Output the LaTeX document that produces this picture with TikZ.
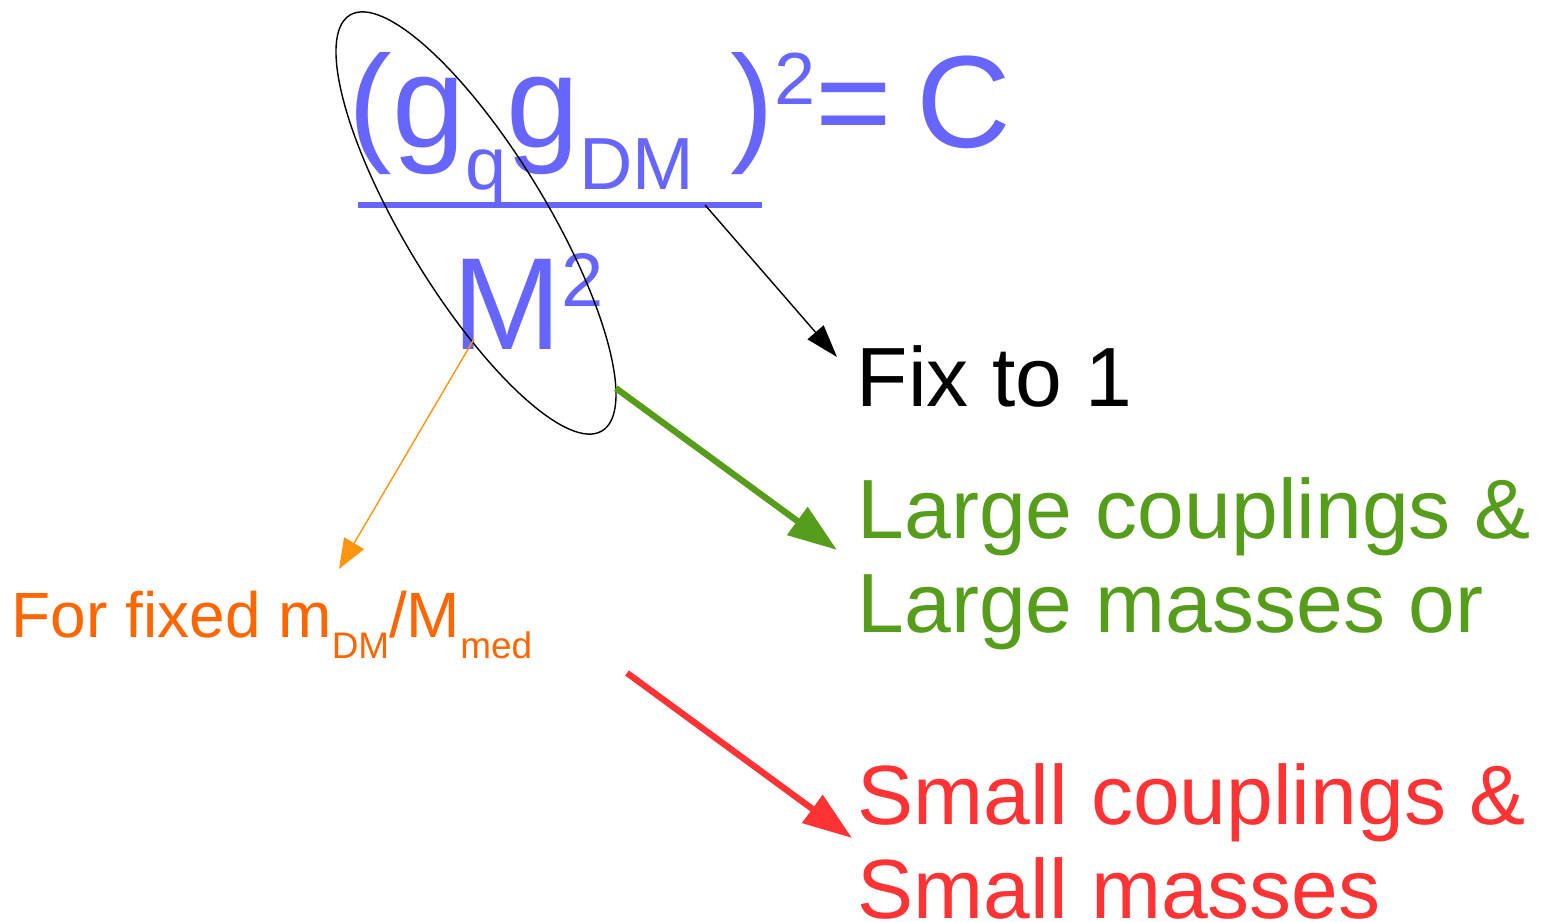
\documentclass[tikz,border=0pt]{standalone}
\usepackage{fontspec}
\setmainfont{Liberation Sans}
\usetikzlibrary{arrows.meta,shapes.geometric,calc}

\definecolor{fblue}{RGB}{102,102,255}
\definecolor{lgreen}{RGB}{87,157,28}
\definecolor{sred}{RGB}{255,51,51}
\definecolor{otext}{RGB}{255,102,0}
\definecolor{oarrow}{RGB}{255,149,14}

\newcommand{\lowtxt}[2]{\raisebox{-0.32em}{\fontsize{#1}{#1}\selectfont #2}}
\newcommand{\hightxt}[2]{\raisebox{0.33em}{\fontsize{#1}{#1}\selectfont #2}}

\begin{document}
\begin{tikzpicture}[
  x=0.01cm, y=-0.01cm,
  txt/.style={anchor=base west, inner sep=0pt, align=left},
  big/.style={font=\fontsize{37.3}{40}\selectfont},
  mid/.style={font=\fontsize{23.9}{27}\selectfont},
  ring/.style={draw, ellipse, line width=0.4pt, inner sep=0pt, outer sep=0pt,
    minimum width=4.86cm, minimum height=1.42cm},
  thinarr/.style={-{Triangle[length=9.3pt, width=6pt]}, line width=0.4pt},
  fatarr/.style={-{Triangle[length=14pt, width=9.5pt]}, line width=1.8pt}
]
\useasboundingbox (0,0) rectangle (1544,922);

% the ratio
\node[txt, big, text=fblue] (coupl) at (348,148) {(g\lowtxt{21}{q}g\lowtxt{21}{DM} )\hightxt{21}{2}=\hspace{0.19em}C};
\coordinate (barL) at (358,205);
\coordinate (barR) at (762,205);
\draw[fblue, line width=1.7pt] (barL) -- (barR);
\node[txt, big, text=fblue] (mass) at (452,350) {M\hightxt{21.6}{2}};
\node[ring, rotate=-58.75] (loop) at (476,223) {};

% outcomes (base = last line)
\node[txt, mid] (fix) at (856,407) {Fix to 1};
\node[txt, mid, text=lgreen] (large) at (857,633) {Large couplings \&\\Large masses or};
\node[txt, mid, text=sred] (small) at (857,919) {Small couplings \&\\Small masses};
\node[txt, text=otext, font=\fontsize{18.2}{20}\selectfont] (ratio) at (11,638) {For fixed m\lowtxt{10.5}{DM}/M\lowtxt{10.5}{med}};

\coordinate (barmark) at ($(barL)!0.859!(barR)$);
\coordinate (fixtip) at (837,357);
\coordinate (largetip) at (837,550);
\coordinate (smallfoot) at (627,673);
\coordinate (smalltip) at (852,838);
\coordinate (mfoot) at (474,339);
\coordinate (ratiotip) at (339,569);

\draw[thinarr] (barmark) -- (fixtip);
\draw[fatarr, lgreen] (loop.9) -- (largetip);
\draw[fatarr, sred] (smallfoot) -- (smalltip);
\draw[thinarr, oarrow, -{Triangle[length=8.5pt, width=6.5pt]}] (mfoot) -- (ratiotip);

\end{tikzpicture}
\end{document}
